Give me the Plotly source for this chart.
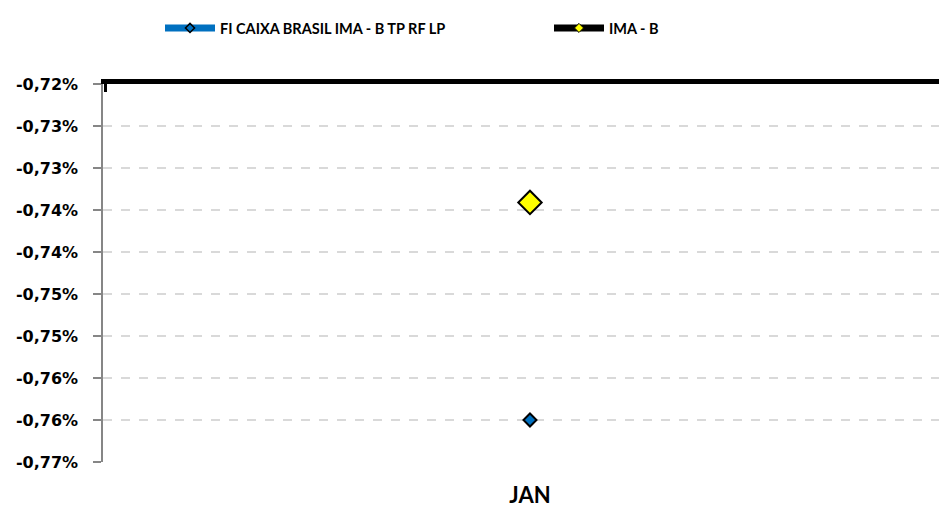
import plotly.graph_objects as go

categories = ["JAN"]
fi_caixa = [-0.7600]
ima_b = [-0.7341]
y_tickvals = [-0.720, -0.725, -0.730, -0.735, -0.740, -0.745, -0.750, -0.755, -0.760, -0.765]
y_ticktext = ["-0,72%", "-0,73%", "-0,73%", "-0,74%", "-0,74%", "-0,75%", "-0,75%", "-0,76%", "-0,76%", "-0,77%"]
series_names = ["FI CAIXA BRASIL IMA - B TP RF LP", "IMA - B"]

BLUE = "#0070C0"

fig = go.Figure()
# data traces
fig.add_trace(go.Scatter(
    x=categories, y=fi_caixa, name=series_names[0], mode="lines+markers", showlegend=False,
    line=dict(color=BLUE, width=6),
    marker=dict(symbol="diamond", size=10, color=BLUE, line=dict(color="black", width=2)),
))
fig.add_trace(go.Scatter(
    x=categories, y=ima_b, name=series_names[1], mode="lines+markers", showlegend=False,
    line=dict(color="black", width=6),
    marker=dict(symbol="diamond", size=18, color="#FFFF00", line=dict(color="black", width=2)),
))
# legend-only entries (small legend markers, as in the reference)
fig.add_trace(go.Scatter(
    x=[None], y=[None], name=series_names[0], mode="lines+markers",
    line=dict(color=BLUE, width=7),
    marker=dict(symbol="diamond", size=7, color=BLUE, line=dict(color="black", width=1.5)),
))
fig.add_trace(go.Scatter(
    x=[None], y=[None], name=series_names[1], mode="lines+markers",
    line=dict(color="black", width=7),
    marker=dict(symbol="diamond", size=7, color="#FFFF00", line=dict(color="black", width=1)),
))
# empty trace so the top axis (black line at the top of the plot) is drawn
fig.add_trace(go.Scatter(x=[None], y=[None], xaxis="x2", showlegend=False, hoverinfo="skip"))

fig.update_layout(
    width=939, height=507,
    margin=dict(l=103, r=0, t=84, b=45, autoexpand=False),
    paper_bgcolor="white", plot_bgcolor="white",
    showlegend=True,
    legend=dict(
        orientation="h", xref="container", yref="container",
        x=160 / 939, y=1 - 28 / 507, xanchor="left", yanchor="middle",
        font=dict(family="Lato", size=14.5, color="black", weight="bold"),
        entrywidth=324, itemwidth=50, bgcolor="rgba(0,0,0,0)",
    ),
    xaxis=dict(
        type="category", range=[-0.5, 0.479], showgrid=False, showline=False, ticks="",
        tickfont=dict(family="Lato", size=22, color="black", weight="bold"),
        ticklabelstandoff=18, zeroline=False, automargin=False,
    ),
    xaxis2=dict(
        overlaying="x", side="top", anchor="y", range=[-0.5, 0.479], type="linear",
        showline=True, linecolor="black", linewidth=5, showgrid=False, zeroline=False,
        tickvals=[-0.497], ticks="inside", ticklen=8, tickwidth=3, tickcolor="black",
        showticklabels=False, automargin=False,
    ),
    yaxis=dict(
        range=[-0.765, -0.72], tickvals=y_tickvals, ticktext=y_ticktext,
        showgrid=True, gridcolor="#D9D9D9", gridwidth=1.5, griddash="dash",
        showline=True, linecolor="#868686", linewidth=1.5,
        ticks="outside", ticklen=8, tickcolor="#868686", tickwidth=1.5,
        tickfont=dict(family="DejaVu Sans", size=16, color="black", weight="bold"),
        ticklabelstandoff=12, zeroline=False, automargin=False,
    ),
)

fig.write_html("out.html", config={"displayModeBar": False},
               post_script="document.body.style.margin='0';")
